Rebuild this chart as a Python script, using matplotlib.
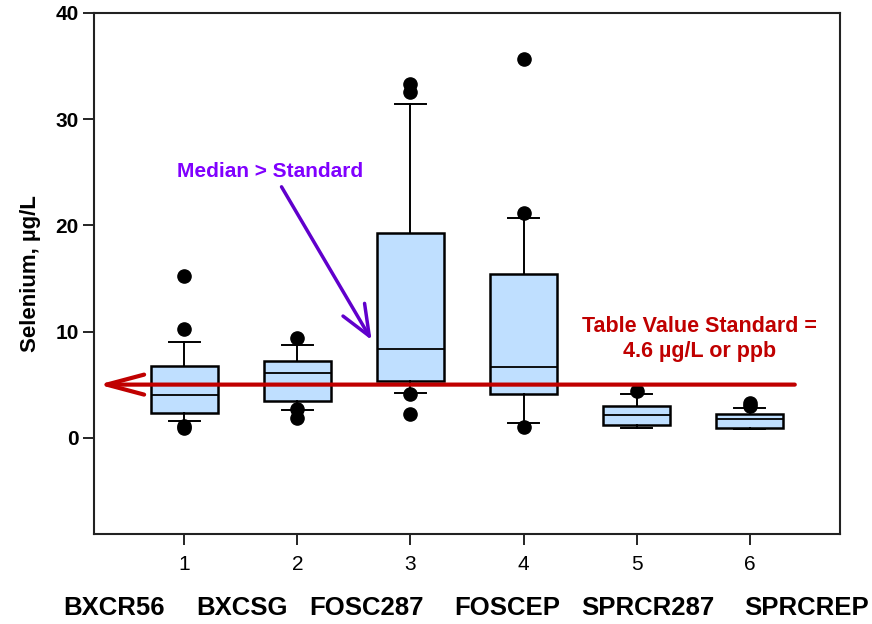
import matplotlib
matplotlib.use("Agg")
import matplotlib.pyplot as plt
from matplotlib import font_manager as fm

# ---------------- data ----------------
positions = [1, 2, 3, 4, 5, 6]
site_names = ["BXCR56", "BXCSG", "FOSC287", "FOSCEP", "SPRCR287", "SPRCREP"]
whislo = [1.6, 2.6, 4.2, 1.4, 0.9, 0.85]
q1 = [2.35, 3.5, 5.3, 4.15, 1.2, 0.95]
med = [4.0, 6.1, 8.4, 6.7, 2.1, 1.8]
q3 = [6.8, 7.2, 19.3, 15.4, 3.0, 2.2]
whishi = [9.0, 8.7, 31.4, 20.7, 4.1, 2.8]
fliers = [
    [15.2, 10.2, 1.1, 0.9],
    [9.4, 2.7, 1.9],
    [33.3, 32.6, 4.1, 2.2],
    [35.7, 21.2, 1.0],
    [4.4],
    [3.3, 3.0],
]
yticks = [0, 10, 20, 30, 40]
standard_line = 5.0

# ---------------- fonts ----------------
names = {f.name for f in fm.fontManager.ttflist}
narrow = "Liberation Sans Narrow" if "Liberation Sans Narrow" in names else "Liberation Sans"
plt.rcParams["font.family"] = ["Liberation Sans", "DejaVu Sans"]

fig = plt.figure(figsize=(8.72, 6.24), dpi=100)
ax = fig.add_axes([94 / 872, 1 - 534 / 624, (840 - 94) / 872, (534 - 13) / 624])

stats = []
for i in range(len(positions)):
    stats.append(dict(whislo=whislo[i], q1=q1[i], med=med[i], q3=q3[i],
                      whishi=whishi[i], fliers=fliers[i]))

ax.bxp(stats, positions=positions, widths=0.6, capwidths=0.27,
       patch_artist=True, showfliers=True,
       boxprops=dict(facecolor="#BFDFFF", edgecolor="black", linewidth=1.8),
       medianprops=dict(color="black", linewidth=1.3),
       whiskerprops=dict(color="black", linewidth=1.4),
       capprops=dict(color="black", linewidth=1.4),
       flierprops=dict(marker="o", markerfacecolor="black", markeredgecolor="black",
                       markersize=9.5, linestyle="none"),
       zorder=2)

ax.set_xlim(0.2, 6.8)
ax.set_ylim(-9.07, 40)
ax.set_yticks(yticks)
ax.set_xticks(positions)
ax.set_xticklabels([str(p) for p in positions], fontsize=15, family=[narrow, "DejaVu Sans"])
for lab in ax.get_yticklabels():
    lab.set_fontweight("bold")
    lab.set_fontsize(15)
ax.tick_params(axis="y", direction="out", length=8, width=1.2, pad=3)
ax.tick_params(axis="x", direction="out", length=8, width=1.2, pad=7)
for s in ax.spines.values():
    s.set_linewidth(1.5)
    s.set_color("#222222")

ax.set_ylabel("Selenium, µg/L", fontsize=16, fontweight="bold", labelpad=10)

# standard line arrow
ax.annotate("", xy=(0.24, standard_line), xytext=(6.40, standard_line),
            arrowprops=dict(arrowstyle="->,head_length=1.35,head_width=0.36",
                            color="#C00000", lw=3, mutation_scale=20,
                            shrinkA=0, shrinkB=0), zorder=5)
ax.text(5.56, 9.25, "Table Value Standard =\n4.6 µg/L or ppb", ha="center", va="center",
        fontsize=15.5, fontweight="bold", color="#C00000", linespacing=1.25)

# median > standard arrow
ax.text(1.756, 25.05, "Median > Standard", ha="center", va="center",
        fontsize=15, fontweight="bold", color="#8000FF")
ax.annotate("", xy=(2.656, 9.2), xytext=(1.859, 23.63),
            arrowprops=dict(arrowstyle="->,head_length=1.1,head_width=0.45",
                            color="#6000CC", lw=2.5, mutation_scale=20,
                            shrinkA=0, shrinkB=0), zorder=5)

# site names below the axis
name_x = [114, 242, 366, 507, 648, 807]
for nx, nm in zip(name_x, site_names):
    fig.text(nx / 872, 1 - 608 / 624, nm, ha="center", va="center",
             fontsize=18.5, fontweight="bold", family=[narrow, "DejaVu Sans"])

fig.savefig("out.png", dpi=100)
